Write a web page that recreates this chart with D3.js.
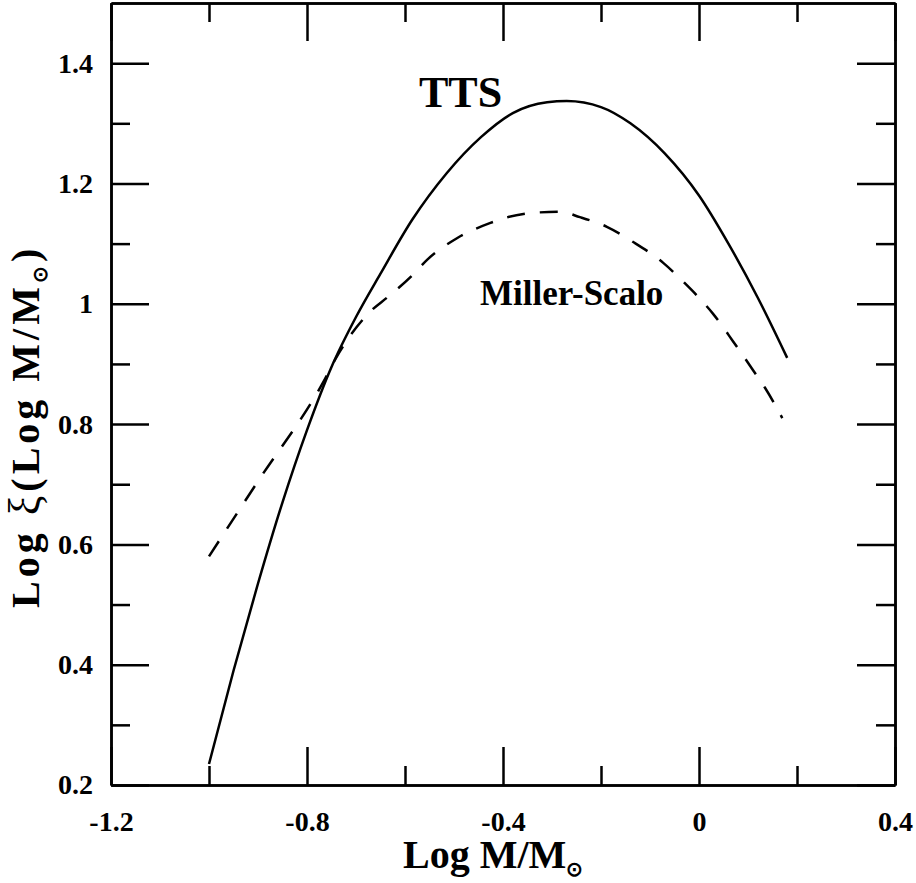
<html>
<head>
    <meta charset="utf-8">
    <title>Log xi vs Log M</title>
    <style>
        body { margin: 0; background: #fff; }
        text { font-family: "Liberation Serif", "Times New Roman", serif; font-weight: bold; fill: #000; }
    </style>
</head>
<body>
    <script src="https://cdn.jsdelivr.net/npm/d3@7"></script>
    <script>
        // data: [log M/Msun, log xi]
        var ttsX = [-1.0, -0.95, -0.9, -0.85, -0.8, -0.75, -0.7, -0.65, -0.585, -0.515, -0.445, -0.38, -0.31, -0.27, -0.2, -0.14, -0.07, 0.0, 0.06, 0.12, 0.18];
        var ttsY = [0.235, 0.39, 0.535, 0.67, 0.79, 0.895, 0.978, 1.05, 1.14, 1.217, 1.277, 1.317, 1.335, 1.337, 1.327, 1.3, 1.25, 1.18, 1.1, 1.01, 0.91];
        var msX = [-1.0, -0.9, -0.77, -0.735, -0.667, -0.637, -0.584, -0.555, -0.494, -0.427, -0.39, -0.34, -0.284, -0.243, -0.188, -0.135, -0.073, -0.03, 0.0, 0.03, 0.07, 0.11, 0.135, 0.17];
        var msY = [0.58, 0.705, 0.865, 0.918, 0.99, 1.01, 1.048, 1.073, 1.109, 1.134, 1.144, 1.151, 1.153, 1.144, 1.128, 1.103, 1.068, 1.035, 1.01, 0.982, 0.937, 0.89, 0.86, 0.81];

        var xMajor = [-1.2, -0.8, -0.4, 0, 0.4];
        var xMinor = [-1.0, -0.6, -0.2, 0.2];
        var yMajor = [0.2, 0.4, 0.6, 0.8, 1.0, 1.2, 1.4];
        var yMinor = [0.3, 0.5, 0.7, 0.9, 1.1, 1.3];

        var width = 916, height = 883;
        var x0 = 111, x1 = 895, y0 = 785, y1 = 3;   // plot frame

        var svg = d3.select("body").append("svg")
            .attr("width", width)
            .attr("height", height);

        var x = d3.scaleLinear().domain([-1.2, 0.4]).range([x0, x1]);
        var y = d3.scaleLinear().domain([0.2, 1.5]).range([y0, y1]);

        var fmt = function (d) { return String(+d.toFixed(1)); };
        var big = 38, small = 19;

        function styleAxis(g) {
            g.attr("font-size", 28).attr("font-family", null);
            g.selectAll("path, line").attr("stroke", "#000").attr("stroke-width", 2.5);
            g.selectAll("text").attr("fill", "#000");
        }

        // bottom
        svg.append("g").attr("transform", "translate(0," + y0 + ")")
            .call(d3.axisBottom(x).tickValues(xMajor).tickFormat(fmt).tickSize(-big).tickSizeOuter(0).tickPadding(26))
            .call(styleAxis);
        svg.append("g").attr("transform", "translate(0," + y0 + ")")
            .call(d3.axisBottom(x).tickValues(xMinor).tickFormat("").tickSize(-small).tickSizeOuter(0))
            .call(styleAxis);
        // top
        svg.append("g").attr("transform", "translate(0," + y1 + ")")
            .call(d3.axisTop(x).tickValues(xMajor).tickFormat("").tickSize(-big).tickSizeOuter(0))
            .call(styleAxis);
        svg.append("g").attr("transform", "translate(0," + y1 + ")")
            .call(d3.axisTop(x).tickValues(xMinor).tickFormat("").tickSize(-small).tickSizeOuter(0))
            .call(styleAxis);
        // left
        svg.append("g").attr("transform", "translate(" + x0 + ",0)")
            .call(d3.axisLeft(y).tickValues(yMajor).tickFormat(fmt).tickSize(-big).tickSizeOuter(0).tickPadding(18))
            .call(styleAxis);
        svg.append("g").attr("transform", "translate(" + x0 + ",0)")
            .call(d3.axisLeft(y).tickValues(yMinor).tickFormat("").tickSize(-small).tickSizeOuter(0))
            .call(styleAxis);
        // right
        svg.append("g").attr("transform", "translate(" + x1 + ",0)")
            .call(d3.axisRight(y).tickValues(yMajor).tickFormat("").tickSize(-big).tickSizeOuter(0))
            .call(styleAxis);
        svg.append("g").attr("transform", "translate(" + x1 + ",0)")
            .call(d3.axisRight(y).tickValues(yMinor).tickFormat("").tickSize(-small).tickSizeOuter(0))
            .call(styleAxis);

        var line = d3.line()
            .x(function (d) { return x(d[0]); })
            .y(function (d) { return y(d[1]); })
            .curve(d3.curveMonotoneX);

        svg.append("path")
            .datum(d3.zip(ttsX, ttsY))
            .attr("fill", "none")
            .attr("stroke", "#000")
            .attr("stroke-width", 2.5)
            .attr("d", line);

        svg.append("path")
            .datum(d3.zip(msX, msY))
            .attr("fill", "none")
            .attr("stroke", "#000")
            .attr("stroke-width", 2.5)
            .attr("stroke-dasharray", "18,15")
            .attr("d", line);

        // curve labels
        svg.append("text").attr("x", 419).attr("y", 107)
            .style("font-size", "44px").text("TTS");
        svg.append("text").attr("x", 480).attr("y", 305)
            .style("font-size", "35px").text("Miller-Scalo");

        // x title
        var xt = svg.append("text").attr("x", 403).attr("y", 868).style("font-size", "40px");
        xt.append("tspan").text("Log M/M");
        xt.append("tspan").attr("dy", 8).style("font-size", "20px").text("\u2299");

        // y title
        var yt = svg.append("text")
            .attr("transform", "translate(39,608) rotate(-90)")
            .style("font-size", "40px")
            .style("letter-spacing", "4px");
        yt.append("tspan").text("Log ");
        yt.append("tspan").style("font-size", "44px").style("font-weight", "normal").text("\u03be");
        yt.append("tspan").text("(Log M/M");
        yt.append("tspan").attr("dy", 8).style("font-size", "20px").text("\u2299");
        yt.append("tspan").attr("dy", -8).text(")");
    </script>
</body>
</html>
